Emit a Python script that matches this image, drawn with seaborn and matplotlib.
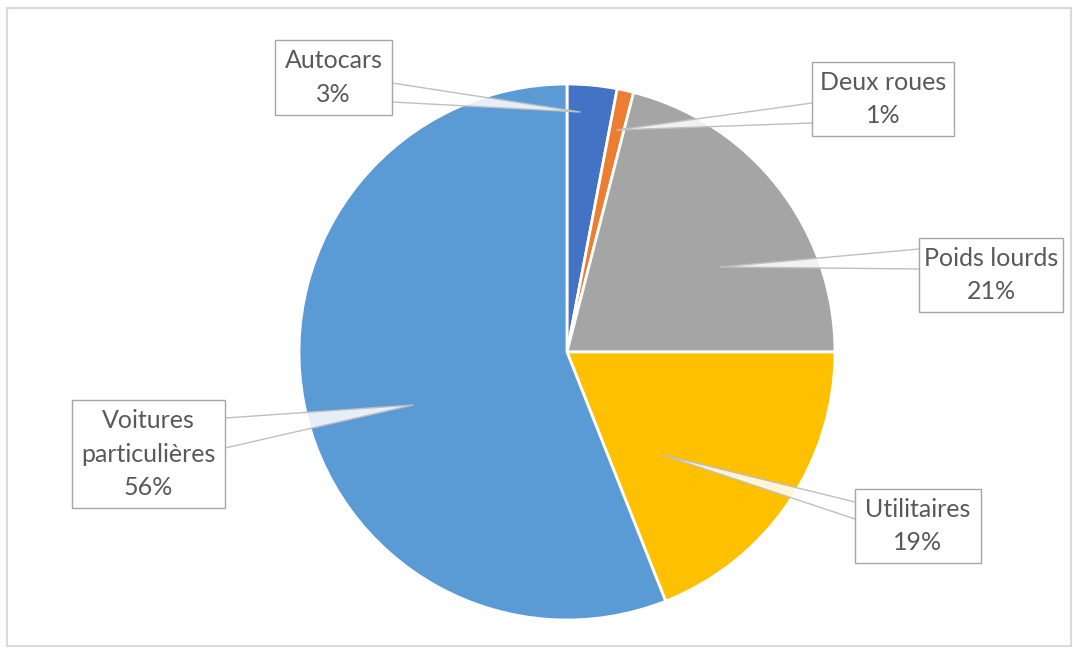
import matplotlib
matplotlib.use("Agg")
import matplotlib.pyplot as plt
import seaborn as sns
from matplotlib.patches import Rectangle, Polygon

# ---- data ----
categories = ["Autocars", "Deux roues", "Poids lourds", "Utilitaires", "Voitures\nparticulières"]
values = [3, 1, 21, 19, 56]
colors = ["#4472C4", "#ED7D31", "#A5A5A5", "#FFC000", "#5B9BD5"]

sns.set_theme(style="white")
plt.rcParams['font.family'] = ['Lato', 'DejaVu Sans']
palette = sns.color_palette(colors)

W, H = 1073, 652
fig = plt.figure(figsize=(W / 100, H / 100), dpi=100)
ax = fig.add_axes([0, 0, 1, 1])
ax.set_xlim(0, W)
ax.set_ylim(0, H)
ax.set_aspect("equal")
ax.axis("off")


def fy(y):
    return H - y


# outer chart frame
ax.add_patch(Rectangle((7, fy(646)), 1064, 638, fill=False, edgecolor="#d9d9d9", lw=1.5, zorder=0))

cx, cy, r = 567, 352, 268
ax.pie(values, colors=palette, startangle=90, counterclock=False, center=(cx, fy(cy)),
       radius=r, wedgeprops=dict(edgecolor="white", linewidth=2), frame=True)
ax.set_xlim(0, W)
ax.set_ylim(0, H)
ax.axis("off")

# label layout (image pixel coords): box, anchor points on box edge, tip inside slice
layout = [
    dict(box=(275, 40, 392, 115), a=((392, 83), (392, 102)), tip=(580, 112)),
    dict(box=(812, 62, 954, 136), a=((812, 103), (812, 123)), tip=(617, 130)),
    dict(box=(919, 238, 1063, 312), a=((919, 249), (919, 269)), tip=(720, 267)),
    dict(box=(855, 489, 981, 563), a=((855, 502), (855, 519)), tip=(663, 455)),
    dict(box=(72, 400, 225, 508), a=((225, 418), (225, 448)), tip=(413, 405)),
]

for cat, val, lay in zip(categories, values, layout):
    (a1, a2), tip = lay["a"], lay["tip"]
    pts = [(a1[0], fy(a1[1])), (tip[0], fy(tip[1])), (a2[0], fy(a2[1]))]
    ax.add_patch(Polygon(pts, closed=True, facecolor="white", edgecolor="none", alpha=0.85, zorder=4))
    ax.plot([pts[0][0], pts[1][0], pts[2][0]], [pts[0][1], pts[1][1], pts[2][1]],
            color="#bfbfbf", lw=1, zorder=4.5)
    x0, y0, x1, y1 = lay["box"]
    ax.add_patch(Rectangle((x0, fy(y1)), x1 - x0, y1 - y0, facecolor="white",
                           edgecolor="#a6a6a6", lw=1, zorder=5))
    ax.text((x0 + x1) / 2, fy((y0 + y1) / 2), f"{cat}\n{val}%", ha="center", va="center",
            fontsize=18, color="#595959", linespacing=1.55, zorder=6)

fig.savefig("out.png", dpi=100)
